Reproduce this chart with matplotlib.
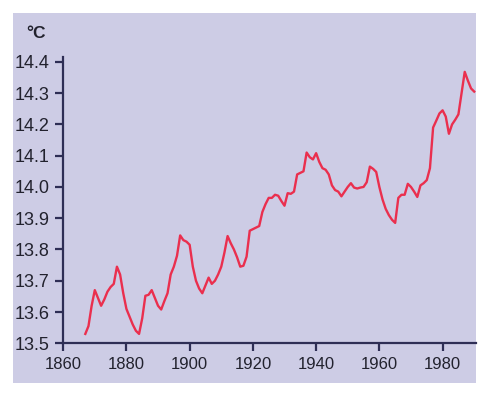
import matplotlib.pyplot as plt
from matplotlib.patches import Rectangle

# global mean temperature
years = list(range(1867, 1991))
temps = [
    13.53, 13.555, 13.62, 13.67, 13.645, 13.62, 13.64, 13.665, 13.68, 13.69,      # 1867-1876
    13.745, 13.72, 13.66, 13.61, 13.585, 13.56, 13.54, 13.53, 13.58, 13.652,      # 1877-1886
    13.655, 13.67, 13.645, 13.62, 13.608, 13.635, 13.66, 13.72, 13.745, 13.78,    # 1887-1896
    13.845, 13.83, 13.825, 13.815, 13.745, 13.70, 13.675, 13.66, 13.685, 13.71,   # 1897-1906
    13.69, 13.70, 13.72, 13.745, 13.79, 13.843, 13.82, 13.80, 13.775, 13.745,     # 1907-1916
    13.748, 13.777, 13.86, 13.865, 13.87, 13.875, 13.92, 13.945, 13.965, 13.965,  # 1917-1926
    13.975, 13.972, 13.955, 13.94, 13.98, 13.978, 13.985, 14.04, 14.045, 14.05,   # 1927-1936
    14.11, 14.095, 14.088, 14.108, 14.08, 14.06, 14.055, 14.04, 14.005, 13.99,    # 1937-1946
    13.985, 13.97, 13.985, 14.0, 14.012, 13.998, 13.995, 13.998, 14.0, 14.015,    # 1947-1956
    14.065, 14.058, 14.048, 14.0, 13.96, 13.93, 13.91, 13.895, 13.885, 13.965,    # 1957-1966
    13.975, 13.975, 14.01, 14.0, 13.985, 13.968, 14.005, 14.012, 14.022, 14.06,   # 1967-1976
    14.19, 14.212, 14.235, 14.245, 14.225, 14.17, 14.2, 14.215, 14.232, 14.3,     # 1977-1986
    14.368, 14.34, 14.315, 14.305,                                                # 1987-1990
]
xticks = [1860, 1880, 1900, 1920, 1940, 1960, 1980]
yticks = [13.5, 13.6, 13.7, 13.8, 13.9, 14.0, 14.1, 14.2, 14.3, 14.4]

bg = '#cdcce5'
axis_col = '#2e2e55'
text_col = '#22222e'

plt.rcParams['font.family'] = ['Liberation Sans', 'DejaVu Sans']

fig = plt.figure(figsize=(4.86, 3.93), dpi=100)
fig.patch.set_facecolor('white')
fig.patches.append(Rectangle((13 / 486, 10 / 393), 463 / 486, 370 / 393,
                             transform=fig.transFigure, facecolor=bg,
                             edgecolor='none', zorder=-10))

ax = fig.add_axes([0.130, 0.1265, 0.849, 0.728])
ax.set_facecolor('none')
ax.plot(years, temps, color='#ea2f4e', lw=1.7)

ax.set_xlim(1860, 1990.5)
ax.set_ylim(13.5, 14.415)
ax.set_xticks(xticks)
ax.set_yticks(yticks)
ax.set_yticklabels(['%.1f' % v for v in yticks])

for s in ['top', 'right']:
    ax.spines[s].set_visible(False)
for s in ['left', 'bottom']:
    ax.spines[s].set_color(axis_col)
    ax.spines[s].set_linewidth(1.6)
ax.tick_params(direction='out', length=6, width=1.6, color=axis_col,
               labelcolor=text_col, pad=4)
ax.tick_params(axis='x', labelsize=12)
ax.tick_params(axis='y', labelsize=13)

fig.text(26 / 486, 1 - 38 / 393, '°C', fontsize=12.5, fontweight='bold',
         color=text_col, ha='left', va='baseline')

fig.savefig('out.png', dpi=100)
